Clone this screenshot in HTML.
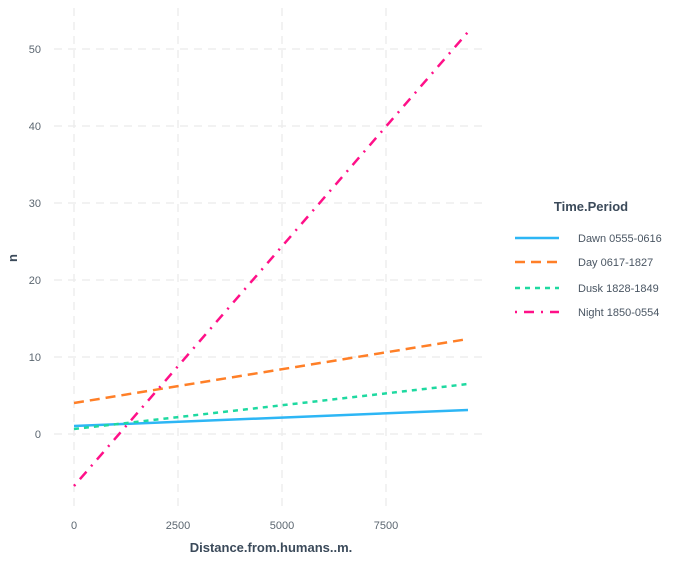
<!DOCTYPE html>
<html><head><meta charset="utf-8"><style>body{margin:0;background:#fff}svg{display:block}text{font-family:"Liberation Sans",sans-serif}</style></head><body>
<svg width="686" height="562" xmlns="http://www.w3.org/2000/svg">
<g stroke="#ebebeb" stroke-width="1.3" stroke-dasharray="8,6">
<line x1="74" y1="8" x2="74" y2="510"/><line x1="178" y1="8" x2="178" y2="510"/><line x1="282" y1="8" x2="282" y2="510"/><line x1="386" y1="8" x2="386" y2="510"/>
<line x1="54" y1="49" x2="488" y2="49"/><line x1="54" y1="126" x2="488" y2="126"/><line x1="54" y1="203" x2="488" y2="203"/><line x1="54" y1="280" x2="488" y2="280"/><line x1="54" y1="357" x2="488" y2="357"/><line x1="54" y1="434" x2="488" y2="434"/>
</g>
<g font-size="11" fill="#5b6670" text-anchor="end">
<text x="41" y="53">50</text><text x="41" y="130">40</text><text x="41" y="207">30</text><text x="41" y="284">20</text><text x="41" y="361">10</text><text x="41" y="438">0</text>
</g>
<g font-size="11" fill="#5b6670" text-anchor="middle">
<text x="74" y="529">0</text><text x="178" y="529">2500</text><text x="282" y="529">5000</text><text x="386" y="529">7500</text>
</g>
<text x="271" y="552" font-size="13" font-weight="bold" fill="#3b4a5a" text-anchor="middle">Distance.from.humans..m.</text>
<text x="17" y="258" font-size="13" font-weight="bold" fill="#3b4a5a" text-anchor="middle" transform="rotate(-90 17 258)">n</text>
<line x1="74" y1="426" x2="468" y2="410" stroke="#2db6f5" stroke-width="2.5"/>
<line x1="74" y1="403" x2="468" y2="339" stroke="#ff7f27" stroke-width="2.5" stroke-dasharray="10,6"/>
<line x1="74" y1="429" x2="468" y2="384" stroke="#1ed9a0" stroke-width="2.5" stroke-dasharray="5,5"/>
<line x1="74" y1="486" x2="468" y2="32" stroke="#ff1088" stroke-width="2.5" stroke-dasharray="2,7,10,7"/>
<text x="591" y="211" font-size="13" font-weight="bold" fill="#3b4a5a" text-anchor="middle">Time.Period</text>
<line x1="515" y1="238" x2="559" y2="238" stroke="#2db6f5" stroke-width="2.5"/>
<line x1="515" y1="262" x2="559" y2="262" stroke="#ff7f27" stroke-width="2.5" stroke-dasharray="10,6"/>
<line x1="515" y1="288" x2="559" y2="288" stroke="#1ed9a0" stroke-width="2.5" stroke-dasharray="5,5"/>
<line x1="515" y1="312" x2="559" y2="312" stroke="#ff1088" stroke-width="2.5" stroke-dasharray="2,7,10,7"/>
<g font-size="11" fill="#4a5663">
<text x="578" y="242">Dawn 0555-0616</text><text x="578" y="266">Day 0617-1827</text><text x="578" y="292">Dusk 1828-1849</text><text x="578" y="316">Night 1850-0554</text>
</g>
</svg>
</body></html>
